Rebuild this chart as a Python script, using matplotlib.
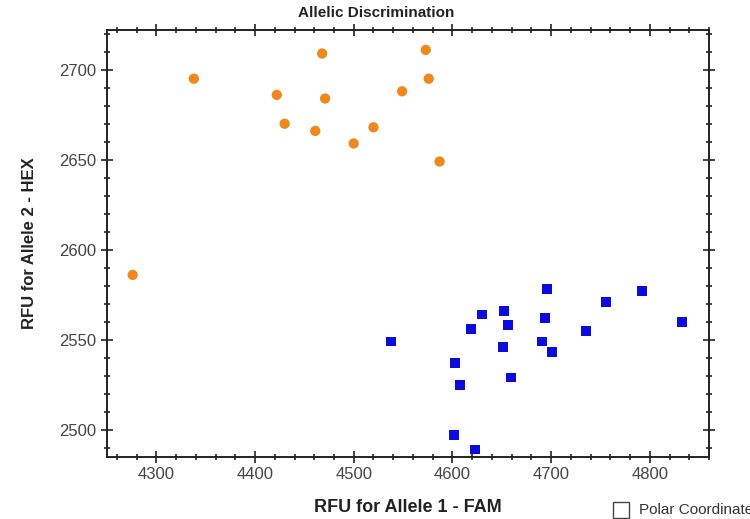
import matplotlib
matplotlib.use('Agg')
import matplotlib.pyplot as plt
from matplotlib.ticker import MultipleLocator
from matplotlib.patches import Rectangle

# Allele 2 (HEX) homozygous cluster - orange circles
hex_fam = [4338, 4468, 4573, 4576, 4422, 4471, 4549, 4430, 4461, 4520, 4500, 4587, 4276]
hex_hex = [2695, 2709, 2711, 2695, 2686, 2684, 2688, 2670, 2666, 2668, 2659, 2649, 2586]

# Allele 1 (FAM) cluster - blue squares
fam_fam = [4538, 4696, 4792, 4756, 4833, 4735, 4630, 4652, 4656, 4619, 4694,
           4691, 4701, 4651, 4603, 4608, 4659, 4602, 4623]
fam_hex = [2549, 2578, 2577, 2571, 2560, 2555, 2564, 2566, 2558, 2556, 2562,
           2549, 2543, 2546, 2537, 2525, 2529, 2497, 2489]

plt.rcParams['font.family'] = ['Liberation Sans', 'DejaVu Sans']

fig = plt.figure(figsize=(7.5, 5.19), dpi=100)
ax = fig.add_axes([0.1427, 0.12, 0.8026, 0.822])

ax.scatter(hex_fam, hex_hex, marker='o', s=55, color='#f0891d', edgecolors='none')
ax.scatter(fam_fam, fam_hex, marker='s', s=50, color='#0b0bde', edgecolors='none')

ax.set_xlim(4250, 4860)
ax.set_ylim(2485, 2722)
ax.xaxis.set_major_locator(MultipleLocator(100))
ax.xaxis.set_minor_locator(MultipleLocator(20))
ax.yaxis.set_major_locator(MultipleLocator(50))
ax.yaxis.set_minor_locator(MultipleLocator(10))
ax.tick_params(which='both', direction='inout', top=True, right=True,
               labeltop=False, labelright=False, color='#222222', width=1.2)
ax.tick_params(which='major', length=8, labelsize=12, labelcolor='#444444')
ax.tick_params(which='minor', length=5)
for sp in ax.spines.values():
    sp.set_linewidth(1.4)
    sp.set_color('#222222')

fig.text(376 / 750, 1 - 13 / 519, 'Allelic Discrimination', fontsize=11,
         fontweight='bold', ha='center', va='center', color='#222222')
ax.set_xlabel('RFU for Allele 1 - FAM', fontsize=13, fontweight='bold', labelpad=12,
              color='#222222')
ax.set_ylabel('RFU for Allele 2 - HEX', fontsize=12, fontweight='bold', labelpad=16,
              color='#222222')

# "Polar Coordinates" checkbox, clipped at the right edge like the reference
fig.patches.append(Rectangle((613 / 750, 1 - 518 / 519), 16 / 750, 16 / 519,
                             transform=fig.transFigure, fill=False,
                             edgecolor='#444444', linewidth=1))
fig.text(639 / 750, 1 - 510 / 519, 'Polar Coordinates', fontsize=11,
         va='center', ha='left', color='#333333')

fig.savefig('out.png', dpi=100)
